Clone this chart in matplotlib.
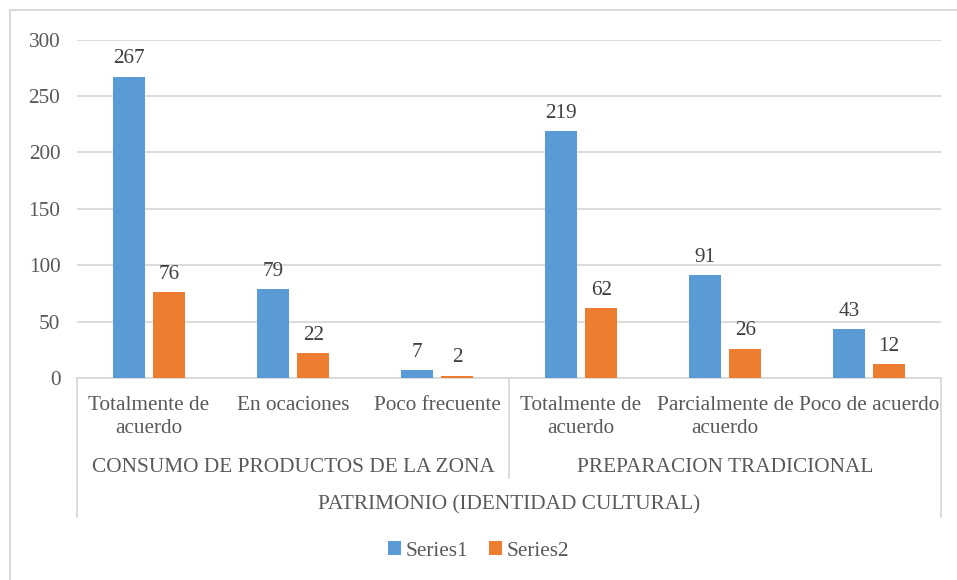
import numpy as np
import matplotlib
matplotlib.use('Agg')
import matplotlib.pyplot as plt
import matplotlib.transforms as mtransforms
from matplotlib.patches import Rectangle

# Datos
categorias = ['Totalmente de\nacuerdo', 'En ocaciones', 'Poco frecuente',
              'Totalmente de\nacuerdo', 'Parcialmente de\nacuerdo', 'Poco de acuerdo']
grupos = ['CONSUMO DE PRODUCTOS DE LA ZONA', 'PREPARACION TRADICIONAL']
tamano_grupos = [3, 3]
nivel_superior = 'PATRIMONIO (IDENTIDAD CULTURAL)'
serie1 = [267, 79, 7, 219, 91, 43]
serie2 = [76, 22, 2, 62, 26, 12]
nombres_series = ['Series1', 'Series2']

AZUL = '#5B9BD5'
NARANJA = '#ED7D31'
GRIS_TEXTO = '#595959'
GRIS_LINEA = '#D9D9D9'

plt.rcParams['font.family'] = 'serif'
plt.rcParams['font.serif'] = ['Liberation Serif', 'Times New Roman', 'DejaVu Serif']
FS = 15.3

W, H = 957, 580
fig = plt.figure(figsize=(W / 100, H / 100), dpi=100)

# borde exterior del grafico
fig.patches.append(Rectangle((10 / W, -0.05), 1.1, (H - 10) / H + 0.05,
                             transform=fig.transFigure, fill=False,
                             edgecolor=GRIS_LINEA, linewidth=1.5))

ax = fig.add_axes([77 / W, (H - 378) / H, (941 - 77) / W, 338.4 / H])

x = np.arange(len(categorias))
ancho = 0.225
desp = 0.14
b1 = ax.bar(x - desp, serie1, ancho, color=AZUL, label=nombres_series[0], zorder=3)
b2 = ax.bar(x + desp, serie2, ancho, color=NARANJA, label=nombres_series[1], zorder=3)

for barras in (b1, b2):
    for r in barras:
        ax.annotate(str(int(r.get_height())),
                    (r.get_x() + r.get_width() / 2, r.get_height()),
                    xytext=(0, 6), textcoords='offset points',
                    ha='center', va='bottom', fontsize=FS, color='#404040')

ax.set_xlim(-0.5, len(categorias) - 0.5)
ax.set_ylim(0, 300)
ax.set_yticks(range(0, 301, 50))
ax.tick_params(axis='y', length=0, labelsize=FS, labelcolor=GRIS_TEXTO, pad=12)
ax.set_xticks([])
ax.grid(axis='y', color=GRIS_LINEA, linewidth=1.3, zorder=0)
for s in ['top', 'right', 'left']:
    ax.spines[s].set_visible(False)
ax.spines['bottom'].set_color(GRIS_LINEA)
ax.spines['bottom'].set_linewidth(1.3)

# etiquetas de eje multinivel
trans = mtransforms.blended_transform_factory(ax.transData, fig.transFigure)
def fy(py):
    return (H - py) / H

for i, c in enumerate(categorias):
    ax.text(i, fy(396), c, transform=trans, ha='center', va='top',
            fontsize=FS, color=GRIS_TEXTO, linespacing=1.32)

inicio = 0
for g, n in zip(grupos, tamano_grupos):
    centro = inicio + (n - 1) / 2
    ax.text(centro, fy(468), g, transform=trans, ha='center', va='center',
            fontsize=FS, color=GRIS_TEXTO)
    inicio += n

ax.text((len(categorias) - 1) / 2, fy(505), nivel_superior, transform=trans,
        ha='center', va='center', fontsize=FS, color=GRIS_TEXTO)

# lineas divisorias
bordes = [-0.5] + list(np.cumsum(tamano_grupos) - 0.5)
for k, b in enumerate(bordes):
    fondo = 517 if k in (0, len(bordes) - 1) else 478
    ax.plot([b, b], [fy(378), fy(fondo)], transform=trans, color=GRIS_LINEA,
            linewidth=1.3, clip_on=False)

fig.legend(handles=[b1, b2], labels=nombres_series, loc='center',
           bbox_to_anchor=(0.5, fy(551)), ncol=2, frameon=False,
           fontsize=FS, handlelength=0.6, handleheight=0.6,
           handletextpad=0.2, columnspacing=1.0, labelcolor=GRIS_TEXTO)

fig.savefig('out.png', dpi=100)
